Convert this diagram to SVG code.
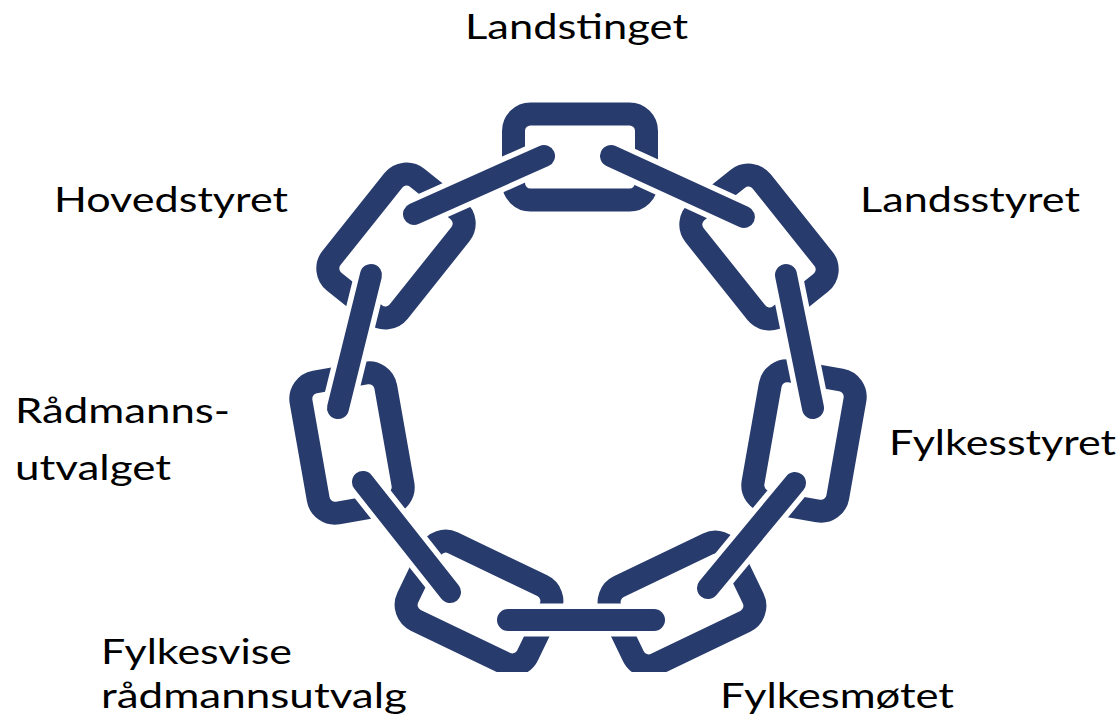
<svg xmlns="http://www.w3.org/2000/svg" width="1118" height="720" viewBox="0 0 1118 720">
  <style>
    .lbl { font-family: Lato, "Open Sans", "Liberation Sans", sans-serif; font-size: 35px; fill: #000000; }
    .link { fill: none; stroke: #283b6d; stroke-width: 23; }
    .halo { stroke: #ffffff; stroke-width: 33; stroke-linecap: round; }
    .bar { stroke: #283b6d; stroke-width: 22; stroke-linecap: round; }
  </style>
  <defs>
    <rect id="openLink" x="-66.5" y="-43" width="133" height="86" rx="17" ry="17"/>
    <clipPath id="chainClip"><rect x="0" y="0" width="1118" height="672"/></clipPath>
  </defs>
  <rect width="1118" height="720" fill="#ffffff"/>

  <g id="chain" clip-path="url(#chainClip)">
    <g id="links">
      <use href="#openLink" class="link" transform="translate(580,157)"/>
      <use href="#openLink" class="link" transform="translate(759,247) rotate(51.43)"/>
      <use href="#openLink" class="link" transform="translate(804,441) rotate(100)"/>
      <use href="#openLink" class="link" transform="translate(682,604) rotate(-25.71)"/>
      <use href="#openLink" class="link" transform="translate(479,603) rotate(25.71)"/>
      <use href="#openLink" class="link" transform="translate(352,443) rotate(80)"/>
      <use href="#openLink" class="link" transform="translate(396,246) rotate(-51.43)"/>
    </g>
    <g id="connectors">
      <line class="halo" x1="414" y1="214" x2="544" y2="156"/>
      <line class="bar" x1="414" y1="214" x2="544" y2="156"/>
      <line class="halo" x1="611" y1="156" x2="744" y2="217"/>
      <line class="bar" x1="611" y1="156" x2="744" y2="217"/>
      <line class="halo" x1="786" y1="275" x2="813" y2="408"/>
      <line class="bar" x1="786" y1="275" x2="813" y2="408"/>
      <line class="halo" x1="795" y1="483" x2="708" y2="588"/>
      <line class="bar" x1="795" y1="483" x2="708" y2="588"/>
      <line class="halo" x1="508" y1="620" x2="654" y2="620"/>
      <line class="bar" x1="508" y1="620" x2="654" y2="620"/>
      <line class="halo" x1="363" y1="482" x2="450" y2="592"/>
      <line class="bar" x1="363" y1="482" x2="450" y2="592"/>
      <line class="halo" x1="371" y1="275" x2="338" y2="408"/>
      <line class="bar" x1="371" y1="275" x2="338" y2="408"/>
    </g>
  </g>

  <g id="label-landstinget"><text class="lbl" x="465" y="39" textLength="223" lengthAdjust="spacingAndGlyphs">Landstinget</text></g>
  <g id="label-hovedstyret"><text class="lbl" x="54" y="212" textLength="234" lengthAdjust="spacingAndGlyphs">Hovedstyret</text></g>
  <g id="label-landsstyret"><text class="lbl" x="860" y="212" textLength="220" lengthAdjust="spacingAndGlyphs">Landsstyret</text></g>
  <g id="label-radmannsutvalget">
    <text class="lbl" x="15" y="423" textLength="215" lengthAdjust="spacingAndGlyphs">Rådmanns-</text>
    <text class="lbl" x="15" y="480" textLength="156" lengthAdjust="spacingAndGlyphs">utvalget</text>
  </g>
  <g id="label-fylkesstyret"><text class="lbl" x="889" y="455" textLength="227" lengthAdjust="spacingAndGlyphs">Fylkesstyret</text></g>
  <g id="label-fylkesvise">
    <text class="lbl" x="101" y="664" textLength="191" lengthAdjust="spacingAndGlyphs">Fylkesvise</text>
    <text class="lbl" x="101" y="708" textLength="306" lengthAdjust="spacingAndGlyphs">rådmannsutvalg</text>
  </g>
  <g id="label-fylkesmotet"><text class="lbl" x="720" y="708" textLength="234" lengthAdjust="spacingAndGlyphs">Fylkesmøtet</text></g>
</svg>
